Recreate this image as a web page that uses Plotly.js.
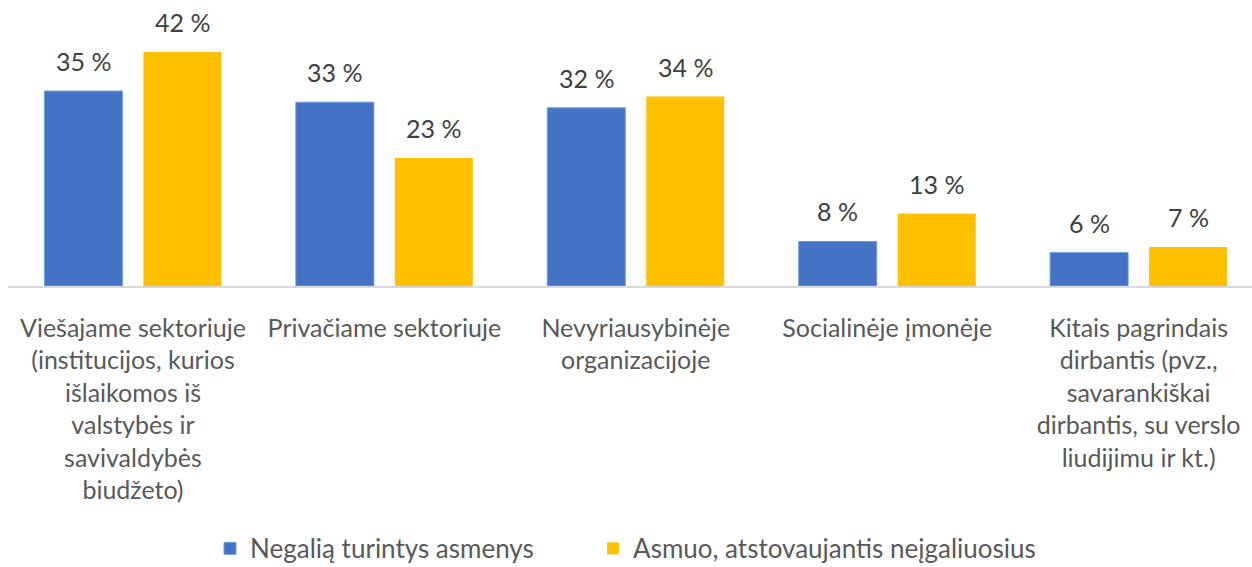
<!DOCTYPE html>
<html><head><meta charset="utf-8">
<script src="https://cdn.plot.ly/plotly-3.0.1.min.js"></script>
<style>html,body{margin:0;padding:0;background:#fff}#chart{width:1252px;height:567px}</style>
</head><body><div id="chart"></div>
<script>
const categories = [
  "Viešajame sektoriuje<br>(institucijos, kurios<br>išlaikomos iš<br>valstybės ir<br>savivaldybės<br>biudžeto)",
  "Privačiame sektoriuje",
  "Nevyriausybinėje<br>organizacijoje",
  "Socialinėje įmonėje",
  "Kitais pagrindais<br>dirbantis (pvz.,<br>savarankiškai<br>dirbantis, su verslo<br>liudijimu ir kt.)"
];
const seriesNames = ["Negalią turintys asmenys", "Asmuo, atstovaujantis neįgaliuosius"];
const disabled = [35, 33, 32, 8, 6];
const representative = [42, 23, 34, 13, 7];

const pos = categories.map((c, i) => i);
const font = "Lato, 'Open Sans', sans-serif";

const traces = [
  {type: 'bar', x: pos, y: disabled, name: seriesNames[0], legend: 'legend',
   marker: {color: '#4472C4', line: {color: '#6FA0DC', width: 1}}, hoverinfo: 'none'},
  {type: 'bar', x: pos, y: representative, name: seriesNames[1], legend: 'legend2',
   marker: {color: '#FFC000'}, hoverinfo: 'none'}
];

const off = 0.197;
const annotations = [];
[disabled, representative].forEach((arr, s) => {
  arr.forEach((v, i) => {
    annotations.push({x: i + (s === 0 ? -off : off), y: v, xref: 'x', yref: 'y',
      text: v + ' %', showarrow: false, yanchor: 'bottom', yshift: 13,
      font: {family: font, size: 25, color: '#404040'}});
  });
});

const legendFont = {family: font, size: 26, color: '#595959'};
const legY = -1.036;
const layout = {
  width: 1252, height: 567,
  margin: {l: 8, r: 0, t: 10, b: 281, autoexpand: false},
  paper_bgcolor: '#fff', plot_bgcolor: '#fff',
  barmode: 'group', bargap: 0.2125, bargroupgap: 0.212,
  font: {family: font, size: 25, color: '#595959'},
  xaxis: {range: [-0.497, 4.451], tickvals: pos, ticktext: categories, automargin: false,
    showgrid: false, zeroline: false, showline: true, linecolor: '#D9D9D9', linewidth: 1.5,
    ticks: '', tickangle: 0, ticklabelstandoff: 19,
    tickfont: {family: font, size: 25, color: '#595959'}},
  yaxis: {range: [0, 49.55], visible: false, showgrid: false, zeroline: false, automargin: false},
  showlegend: true,
  legend: {orientation: 'h', x: 0.1624, xanchor: 'left', y: legY, yanchor: 'bottom',
    bgcolor: 'rgba(0,0,0,0)', font: legendFont},
  legend2: {orientation: 'h', x: 0.4703, xanchor: 'left', y: legY, yanchor: 'bottom',
    bgcolor: 'rgba(0,0,0,0)', font: legendFont},
  annotations: annotations
};

Plotly.newPlot('chart', traces, layout, {displayModeBar: false, staticPlot: true});
</script></body></html>
